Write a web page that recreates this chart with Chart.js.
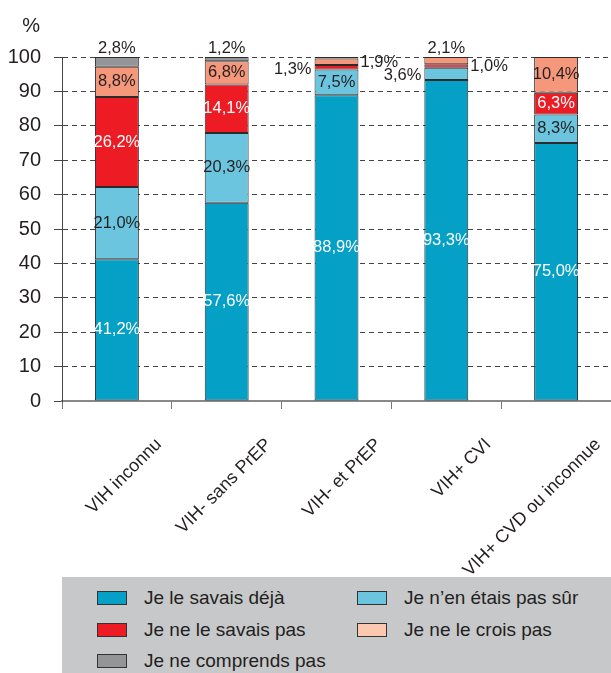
<!DOCTYPE html>
<html lang="fr">
<head>
<meta charset="utf-8">
<script src="https://cdn.jsdelivr.net/npm/chart.js@4.4.1/dist/chart.umd.min.js"></script>
<style>
  html, body { margin: 0; padding: 0; background: #fff; }
  #wrap { position: relative; width: 611px; height: 673px; overflow: hidden; }
  #chart { position: absolute; left: 0; top: 0; }
  #legend {
    position: absolute; left: 62px; top: 577px; width: 549px; height: 96px;
    background: #c7c8ca; color: #231f20;
    font-family: 'Liberation Sans', Arial, sans-serif; font-size: 19px;
  }
  .item { position: absolute; height: 30px; display: flex; align-items: center; white-space: nowrap; }
  .sw { width: 28px; height: 12px; border: 1px solid #333; margin-right: 17px; }
</style>
</head>
<body>
<div id="wrap">
  <canvas id="chart" width="611" height="577"></canvas>
  <div id="legend"></div>
</div>
<script>
// --- DATA ---
const categories = ['VIH inconnu', 'VIH- sans PrEP', 'VIH- et PrEP', 'VIH+ CVI', 'VIH+ CVD ou inconnue'];
const seriesNames = ['Je le savais déjà', 'Je n\u2019en étais pas sûr', 'Je ne le savais pas', 'Je ne le crois pas', 'Je ne comprends pas'];

const savaisDeja   = [41.2, 57.6, 88.9, 93.3, 75.0];
const pasSur       = [21.0, 20.3, 7.5, 3.6, 8.3];
const savaisPas    = [26.2, 14.1, 1.3, 1.0, 6.3];
const croisPas     = [8.8, 6.8, 1.9, 2.1, 10.4];
const comprendsPas = [2.8, 1.2, 0.4, 0, 0];

// --- STYLE ---
const FONT = "'Liberation Sans', Arial, sans-serif";
const INK = '#231f20';
const barColors    = ['#05a0c6', '#6cc5df', '#ed1c24', '#f5977b', '#939598'];
const legendColors = ['#05a0c6', '#6cc5df', '#ed1c24', '#fcc8b0', '#939598'];
const labelColors  = ['#ffffff', INK, '#ffffff', INK, INK];

// labels placed outside the bar segment ("dataset-index": side)
const outsideLabels = {
  '4-0': 'top', '4-1': 'top', '4-2': 'none',
  '2-2': 'left', '3-2': 'right',
  '1-3': 'left', '2-3': 'right', '3-3': 'top'
};

const fmt = v => v.toFixed(1).replace('.', ',') + '%';

// --- PLUGIN : ETIQUETTES DES SEGMENTS ---
const segmentLabels = {
  id: 'segmentLabels',
  afterDatasetsDraw(chart) {
    const ctx = chart.ctx;
    ctx.save();
    ctx.font = '16.5px ' + FONT;
    chart.data.datasets.forEach((ds, di) => {
      const meta = chart.getDatasetMeta(di);
      meta.data.forEach((bar, i) => {
        const v = ds.data[i];
        if (!v) return;
        const side = outsideLabels[di + '-' + i] || 'center';
        if (side === 'none') return;
        const half = bar.width / 2;
        const cy = (bar.y + bar.base) / 2;
        ctx.fillStyle = side === 'center' ? labelColors[di] : INK;
        if (side === 'center') {
          ctx.textAlign = 'center'; ctx.textBaseline = 'middle';
          ctx.fillText(fmt(v), bar.x, cy);
        } else if (side === 'top') {
          ctx.textAlign = 'center'; ctx.textBaseline = 'alphabetic';
          ctx.fillText(fmt(v), bar.x, bar.y - 4);
        } else if (side === 'left') {
          ctx.textAlign = 'right'; ctx.textBaseline = 'middle';
          ctx.fillText(fmt(v), bar.x - half - 3, cy + 2);
        } else {
          ctx.textAlign = 'left'; ctx.textBaseline = 'middle';
          ctx.fillText(fmt(v), bar.x + half + 2, cy + 1);
        }
      });
    });
    ctx.restore();
  },
  afterDraw(chart) {
    const ctx = chart.ctx;
    ctx.save();
    ctx.font = '20px ' + FONT;
    ctx.fillStyle = INK;
    ctx.textAlign = 'right';
    ctx.fillText('%', 40, 32);
    ctx.restore();
  }
};

const seriesData = [savaisDeja, pasSur, savaisPas, croisPas, comprendsPas];

const chart = new Chart(document.getElementById('chart'), {
  type: 'bar',
  data: {
    labels: categories,
    datasets: seriesData.map((d, k) => ({
      label: seriesNames[k],
      data: d,
      backgroundColor: barColors[k],
      borderColor: '#2b2b2b',
      borderWidth: 1,
      borderSkipped: false,
      categoryPercentage: 1,
      barPercentage: 0.4
    }))
  },
  options: {
    responsive: false,
    animation: false,
    layout: { padding: { top: 57, right: 0, left: 0, bottom: 0 } },
    plugins: { legend: { display: false }, tooltip: { enabled: false } },
    scales: {
      x: {
        stacked: true,
        afterFit(s) { s.height = 176; s.paddingLeft = 0; s.paddingRight = 0; },
        grid: { offset: true, drawOnChartArea: false, tickLength: 8, color: '#777' },
        border: { color: '#888', width: 2 },
        ticks: {
          autoSkip: false, maxRotation: 45, minRotation: 45,
          labelOffset: 42, padding: 25,
          color: INK, font: { family: FONT, size: 18 }
        }
      },
      y: {
        stacked: true,
        min: 0, max: 100,
        afterFit(s) { s.width = 62; },
        grid: {
          color: c => c.tick && c.tick.value === 0 ? 'rgba(0,0,0,0)' : '#444',
          tickColor: '#444', tickLength: 8, tickBorderDash: [], lineWidth: 1
        },
        border: { color: '#444', width: 1, dash: [5, 4] },
        ticks: { stepSize: 10, padding: 13, color: INK, font: { family: FONT, size: 20 } }
      }
    }
  },
  plugins: [segmentLabels]
});

// --- LEGENDE HTML ---
const legend = document.getElementById('legend');
const legendPos = [[35, 6], [295, 6], [35, 38], [295, 38], [35, 69]];
seriesNames.forEach((name, k) => {
  const it = document.createElement('div');
  it.className = 'item';
  it.style.left = legendPos[k][0] + 'px';
  it.style.top = legendPos[k][1] + 'px';
  const sw = document.createElement('span');
  sw.className = 'sw';
  sw.style.background = legendColors[k];
  it.appendChild(sw);
  it.appendChild(document.createTextNode(name));
  legend.appendChild(it);
});
</script>
</body>
</html>
